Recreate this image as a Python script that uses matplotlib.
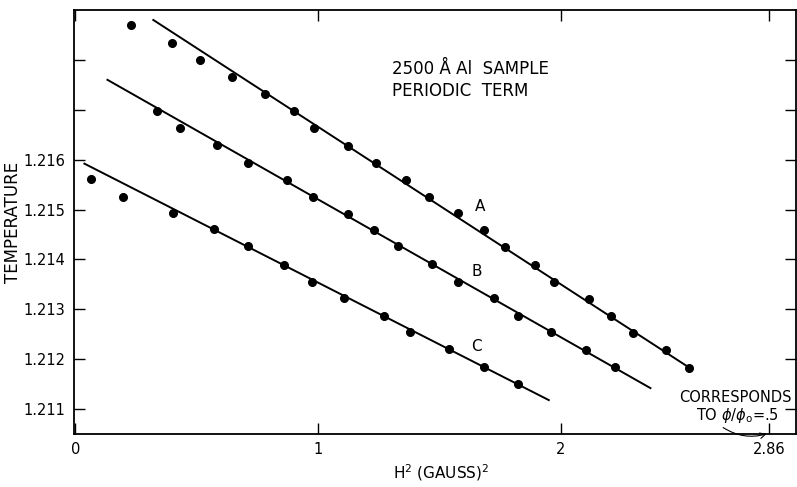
import matplotlib.pyplot as plt

# H^2 (gauss^2) and temperature
a_h2 = [0.230, 0.399, 0.514, 0.646, 0.782, 0.901, 0.984, 1.123, 1.239, 1.362, 1.457,
        1.576, 1.683, 1.770, 1.893, 1.971, 2.115, 2.206, 2.296, 2.436, 2.527]
a_temp = [1.21870, 1.21834, 1.21800, 1.21766, 1.21732, 1.21698, 1.21664, 1.21628,
          1.21594, 1.21560, 1.21526, 1.21494, 1.21458, 1.21424, 1.21388, 1.21354,
          1.21320, 1.21286, 1.21252, 1.21218, 1.21182]

b_h2 = [0.337, 0.432, 0.584, 0.712, 0.872, 0.979, 1.123, 1.230, 1.329, 1.469, 1.576,
        1.724, 1.823, 1.959, 2.103, 2.222]
b_temp = [1.21698, 1.21664, 1.21630, 1.21594, 1.21560, 1.21526, 1.21492, 1.21458,
          1.21426, 1.21390, 1.21354, 1.21322, 1.21286, 1.21254, 1.21218, 1.21184]

c_h2 = [0.066, 0.198, 0.403, 0.572, 0.712, 0.860, 0.975, 1.107, 1.272, 1.379, 1.539,
        1.683, 1.823]
c_temp = [1.21562, 1.21526, 1.21494, 1.21460, 1.21426, 1.21388, 1.21354, 1.21322,
          1.21286, 1.21254, 1.21220, 1.21184, 1.21150]

# straight lines drawn through each set (end points)
fit_a_h2 = [0.321, 2.527]
fit_a_temp = [1.21880, 1.21184]
fit_b_h2 = [0.132, 2.370]
fit_b_temp = [1.21760, 1.21142]
fit_c_h2 = [0.037, 1.951]
fit_c_temp = [1.21592, 1.21118]

labels = ["A", "B", "C"]
label_h2 = [1.668, 1.655, 1.651]
label_temp = [1.21506, 1.21376, 1.21226]

x_ticks = [0, 1, 2, 2.86]
x_ticklabels = ["0", "1", "2", "2.86"]
y_ticks = [1.211, 1.212, 1.213, 1.214, 1.215, 1.216, 1.217, 1.218]
y_ticklabels = ["1.211", "1.212", "1.213", "1.214", "1.215", "1.216", "", ""]

plt.rcParams['font.family'] = ['DejaVu Sans']

fig = plt.figure(figsize=(7.97, 4.87), dpi=100)
ax = fig.add_axes([0.0928, 0.1088, 0.906, 0.8707])

for hx, ty in [(a_h2, a_temp), (b_h2, b_temp), (c_h2, c_temp)]:
    ax.plot(hx, ty, 'o', color='black', markersize=5.5)
for hx, ty in [(fit_a_h2, fit_a_temp), (fit_b_h2, fit_b_temp), (fit_c_h2, fit_c_temp)]:
    ax.plot(hx, ty, '-', color='black', linewidth=1.4)

for lab, hx, ty in zip(labels, label_h2, label_temp):
    ax.text(hx, ty, lab, fontsize=11, ha='center', va='center')

ax.text(1.305, 1.21760, "2500 Å Al  SAMPLE\nPERIODIC  TERM", fontsize=12,
        ha='left', va='center', linespacing=1.25)
ax.text(2.952, 1.21124, "CORRESPONDS", fontsize=10.5, ha='right', va='center')
ax.text(2.90, 1.21088, r"TO $\phi/\phi_{\mathrm{o}}$=.5", fontsize=10.5,
        ha='right', va='center')
ax.annotate("", xy=(2.86, 1.21052), xytext=(2.66, 1.21066),
            arrowprops=dict(arrowstyle='->', color='black', lw=0.8,
                            connectionstyle='arc3,rad=0.25'))

ax.set_xlim(-0.006, 2.97)
ax.set_ylim(1.2105, 1.2190)
ax.set_xticks(x_ticks)
ax.set_xticklabels(x_ticklabels)
ax.set_yticks(y_ticks)
ax.set_yticklabels(y_ticklabels)
ax.tick_params(direction='in', length=8, width=1, labelsize=10.5,
               top=True, right=True, pad=6)
for s in ax.spines.values():
    s.set_linewidth(1.3)

ax.set_xlabel(r"H$^2$ (GAUSS)$^2$", fontsize=11)
ax.set_ylabel("TEMPERATURE", fontsize=12)
ax.xaxis.set_label_coords(0.508, -0.066)
ax.yaxis.set_label_coords(-0.072, 0.5)

fig.savefig("out.png", dpi=100)
